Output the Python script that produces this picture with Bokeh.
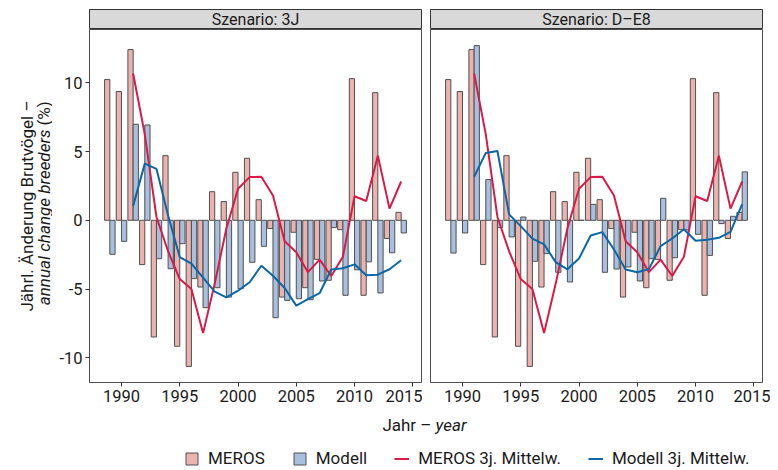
import math
from bokeh.plotting import figure
from bokeh.models import ColumnDataSource, Range1d, FixedTicker, Legend, LegendItem
from bokeh.layouts import row, column
from bokeh.transform import dodge
from bokeh.core.properties import value
from bokeh.embed import file_html
from bokeh.resources import INLINE

# ---------------- data ----------------
years = list(range(1989, 2015))
meros = [10.23, 9.36, 12.41, -3.22, -8.48, 4.70, -9.16, -10.62, -4.85, 2.08,
         1.36, 3.49, 4.51, 1.50, -0.60, -5.58, -0.87, -4.90, -2.84, -4.36,
         -0.68, 10.30, -5.45, 9.28, -1.32, 0.58]
modell_3j = [-2.47, -1.53, 6.98, 6.93, -2.79, -3.52, -1.70, -4.24, -6.35, -4.90,
             -5.58, -4.97, -3.05, -1.89, -7.08, -5.82, -5.70, -5.77, -4.41, -0.53,
             -5.45, -3.60, -3.02, -5.28, -2.36, -0.92]
modell_de8 = [-2.38, -0.92, 12.70, 2.96, -0.53, -1.21, 0.24, -2.98, -2.42, -3.78,
              -4.48, 0.00, 1.16, -3.78, -3.54, -3.39, -4.41, -2.79, 1.60, -2.72,
              -0.70, -1.02, -2.55, -0.24, 0.29, 3.52]

years_mean = list(range(1991, 2015))
meros_mean = [10.67, 6.25, 0.24, -2.25, -4.27, -5.00, -8.20, -4.60, -0.60, 2.30,
              3.14, 3.16, 1.81, -1.53, -2.32, -3.77, -2.86, -4.05, -2.65, 1.75,
              1.40, 4.70, 0.85, 2.82]
modell_3j_mean = [1.05, 4.12, 3.74, 0.35, -2.67, -3.15, -4.17, -5.18, -5.60, -5.12,
                  -4.50, -3.30, -4.03, -4.92, -6.20, -5.73, -5.30, -3.58, -3.48, -3.20,
                  -4.00, -3.95, -3.56, -2.90]
modell_de8_mean = [3.17, 4.90, 5.04, 0.43, -0.42, -1.33, -1.75, -3.04, -3.56, -2.78,
                   -1.10, -0.86, -2.12, -3.57, -3.77, -3.55, -1.88, -1.32, -0.65, -1.49,
                   -1.42, -1.27, -0.84, 1.17]

x_ticks = [1990, 1995, 2000, 2005, 2010, 2015]
x_tick_labels = ["1990", "1995", "2000", "2005", "2010", "2015"]
y_ticks = [-10, -5, 0, 5, 10]
y_tick_labels = ["-10", "-5", "0", "5", "10"]
panel_titles = ["Szenario: 3J", "Szenario: D\u2013E8"]
legend_labels = ["MEROS", "Modell", "MEROS 3j. Mittelw.", "Modell 3j. Mittelw."]

# ---------------- style ----------------
FONT = "Roboto"
FS = "16px"
FS_TITLE = "17px"
FS_TICK = "16.5px"
FS_LEG = "17px"
TXT = "#1A1A1A"
PINK = "#EBB3AF"
BLUE = "#A8BFDD"
RED = "#D81B47"
DBLUE = "#0B67A7"
EDGE = "#505050"
FRAME = "#4D4D4D"
STRIP = "#D9D9D9"

X_RANGE = (1987.255, 2015.745)
Y_RANGE = (-11.79, 13.87)
NAN = float("nan")

YT_W = 52            # width of the y-title column
LB = 89 - YT_W       # left border of the left panel (tick labels)


def make_panel(modell, modell_mean, show_y):
    p = figure(frame_width=332, frame_height=353,
               x_range=Range1d(*X_RANGE), y_range=Range1d(*Y_RANGE),
               output_backend="svg", toolbar_location=None,
               y_axis_location="left" if show_y else None,
               min_border_left=LB if show_y else 8,
               min_border_right=1 if show_y else 8,
               min_border_top=0, min_border_bottom=27)
    p.grid.visible = False
    p.outline_line_color = FRAME
    p.outline_line_width = 1
    src = ColumnDataSource(dict(year=years, meros=meros, modell=modell))
    p.vbar(x=dodge("year", -0.225, range=p.x_range), top="meros", bottom=0,
           width=0.45, fill_color=PINK, line_color=EDGE, line_width=1, source=src)
    p.vbar(x=dodge("year", 0.225, range=p.x_range), top="modell", bottom=0,
           width=0.45, fill_color=BLUE, line_color=EDGE, line_width=1, source=src)
    p.line(years_mean, meros_mean, line_color=RED, line_width=2)
    p.line(years_mean, modell_mean, line_color=DBLUE, line_width=2)

    axes = list(p.xaxis) + (list(p.yaxis) if show_y else [])
    for ax in axes:
        ax.axis_line_color = None
        ax.major_tick_line_color = "#333333"
        ax.major_tick_out = 4
        ax.major_tick_in = 0
        ax.minor_tick_line_color = None
        ax.major_label_text_font = FONT
        ax.major_label_text_font_size = FS_TICK
        ax.major_label_text_color = TXT
        ax.major_label_standoff = 3
    p.xaxis.ticker = FixedTicker(ticks=x_ticks)
    p.xaxis.major_label_overrides = dict(zip(x_ticks, x_tick_labels))
    if show_y:
        p.yaxis.ticker = FixedTicker(ticks=y_ticks)
        p.yaxis.major_label_overrides = dict(zip(y_ticks, y_tick_labels))
    return p


def make_strip(title, show_y):
    s = figure(frame_width=332, frame_height=20,
               x_range=Range1d(0, 1), y_range=Range1d(0, 1),
               output_backend="svg", toolbar_location=None,
               x_axis_location=None, y_axis_location=None,
               min_border_left=LB if show_y else 8,
               min_border_right=1 if show_y else 8,
               min_border_top=9, min_border_bottom=0)
    s.grid.visible = False
    s.background_fill_color = STRIP
    s.outline_line_color = "#333333"
    s.text(x=[0.5], y=[0.5], text=[title], text_align="center",
           text_baseline="middle", text_font=value(FONT),
           text_font_size=FS, text_color=TXT)
    return s


panel_l = make_panel(modell_3j, modell_3j_mean, True)
panel_r = make_panel(modell_de8, modell_de8_mean, False)
strip_l = make_strip(panel_titles[0], True)
strip_r = make_strip(panel_titles[1], False)

# y-axis title
YT_H = 409
yt = figure(width=YT_W, height=YT_H, x_range=Range1d(0, YT_W), y_range=Range1d(0, YT_H),
            output_backend="svg", toolbar_location=None,
            x_axis_location=None, y_axis_location=None, min_border=0)
yt.grid.visible = False
yt.outline_line_color = None
yc = YT_H - 205.5
yt.text(x=[26], y=[yc], text=["J\u00e4hrl. \u00c4nderung Brutv\u00f6gel \u2013"],
        angle=math.pi / 2, text_align="center", text_baseline="middle",
        text_font=value(FONT), text_font_size=FS_TITLE, text_color=TXT)
y0 = yc + 76.5
yt.text(x=[43], y=[y0], text=["annual change breeders"], angle=math.pi / 2,
        text_align="right", text_baseline="middle", text_font=value(FONT),
        text_font_style="italic", text_font_size=FS_TITLE, text_color=TXT)
yt.text(x=[43], y=[y0 + 4], text=["(%)"], angle=math.pi / 2,
        text_align="left", text_baseline="middle", text_font=value(FONT),
        text_font_size=FS_TITLE, text_color=TXT)

# bottom: x-axis title + legend
B_H = 59
b = figure(width=770, height=B_H, x_range=Range1d(0, 770), y_range=Range1d(0, B_H),
           output_backend="svg", toolbar_location=None,
           x_axis_location=None, y_axis_location=None, min_border=0)
b.grid.visible = False
b.outline_line_color = None
b.text(x=[431], y=[44], text=["Jahr \u2013"], text_align="right",
       text_baseline="middle", text_font=value(FONT), text_font_size=FS_TITLE,
       text_color=TXT)
b.text(x=[435], y=[44], text=["year"], text_align="left",
       text_baseline="middle", text_font=value(FONT), text_font_style="italic",
       text_font_size=FS_TITLE, text_color=TXT)

r1 = b.vbar(x=[NAN], top=[NAN], width=0.45, fill_color=PINK, line_color=EDGE, line_width=1)
r2 = b.vbar(x=[NAN], top=[NAN], width=0.45, fill_color=BLUE, line_color=EDGE, line_width=1)
r3 = b.line(x=[NAN], y=[NAN], line_color=RED, line_width=2)
r4 = b.line(x=[NAN], y=[NAN], line_color=DBLUE, line_width=2)
legend = Legend(items=[LegendItem(label=legend_labels[0], renderers=[r1]),
                       LegendItem(label=legend_labels[1], renderers=[r2]),
                       LegendItem(label=legend_labels[2], renderers=[r3]),
                       LegendItem(label=legend_labels[3], renderers=[r4])],
                orientation="horizontal", location=(184, 0),
                glyph_width=15, glyph_height=15, label_standoff=9, spacing=27,
                padding=0, margin=0, border_line_color=None,
                background_fill_alpha=0, label_text_font=FONT,
                label_text_font_size=FS_LEG, label_text_color=TXT)
b.add_layout(legend)

page = column(row(yt, column(strip_l, panel_l), column(strip_r, panel_r)), b)

with open("out.html", "w") as f:
    f.write(file_html(page, INLINE))
